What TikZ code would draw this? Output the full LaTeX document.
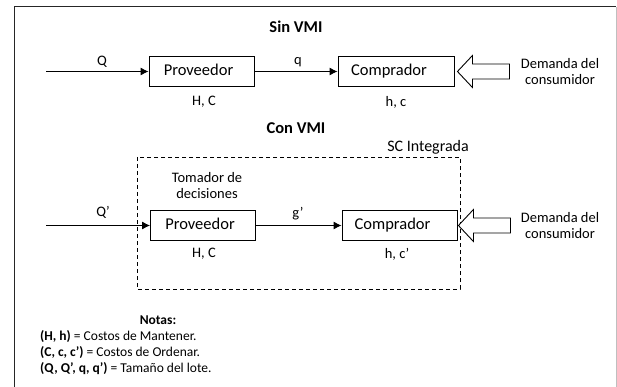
\documentclass[tikz,border=0pt]{standalone}
\usepackage{fontspec}
\setmainfont{Carlito}
\usetikzlibrary{arrows.meta,calc}
\tikzset{
  boxnode/.style={draw, line width=0.9pt, minimum height=30pt, inner sep=0pt, text height=11.5pt, text depth=3.5pt, font=\fontsize{16.5}{19}\selectfont},
  lbl/.style={inner sep=0pt, font=\fontsize{14.5}{16}\selectfont},
  ttl/.style={inner sep=0pt, font=\fontsize{16.5}{18}\selectfont\bfseries},
  flow/.style={line width=0.9pt, -{Latex[length=8pt,width=8pt]}},
  hollow/.style={draw, line width=0.9pt, fill=white},
  dashbox/.style={draw, line width=0.9pt, dash pattern=on 4pt off 3pt},
  note/.style={inner sep=0pt, anchor=west, font=\fontsize{13.5}{15}\selectfont}
}
\begin{document}
\begin{tikzpicture}[x=1pt,y=-1pt]
\useasboundingbox (0,0) rectangle (617,387);
% frame
\draw[line width=1pt, black!85] (14,388) -- (14,7) -- (616,7);
\draw[line width=1pt, black!25] (616,7) -- (616,388);

% ---------- Sin VMI ----------
\node[ttl] (t1) at (296,27) {Sin VMI};
\node[boxnode, minimum width=105pt] (p1) at (201.5,71.5) {\hspace*{-6pt}Proveedor};
\node[boxnode, minimum width=116pt] (c1) at (396,71.5) {\hspace*{-14pt}Comprador};
\coordinate (in1) at (46,71.5);
\draw[flow] (in1) -- (p1.west);
\draw[flow] (p1.east) -- (c1.west);
\node[lbl] (lq1) at (102,62) {Q};
\node[lbl] (lq2) at (298,62) {q};
\node[lbl] (hc1) at (204,102) {H, C};
\node[lbl] (hc2) at (396,102) {h, c};
\node[lbl, align=center] (d1) at (560,71.5) {Demanda del\\consumidor};
\draw[hollow, shift={($(c1.east)+(3,0)$)}] (0,0) -- (15,-16) -- (15,-7.5) -- (52,-7.5) -- (52,7.5) -- (15,7.5) -- (15,16) -- cycle;

% ---------- Con VMI ----------
\node[ttl] (t2) at (296,128) {Con VMI};
\node[lbl, font=\fontsize{16}{18}\selectfont] (sc) at (428,147) {SC Integrada};
\draw[dashbox] (137,157) rectangle (460,289);
\node[lbl] (tom1) at (207,178) {Tomador de};
\node[lbl] (tom2) at (207,194) {decisiones};
\node[boxnode, minimum width=105pt] (p2) at (203,225.5) {\hspace*{-6pt}Proveedor};
\node[boxnode, minimum width=115pt] (c2) at (399.5,225.5) {\hspace*{-14pt}Comprador};
\coordinate (in2) at (46,225.5);
\draw[flow] (in2) -- (p2.west);
\draw[flow] (p2.east) -- (c2.west);
\node[lbl] (lq3) at (103,212) {Q’};
\node[lbl] (lq4) at (298,214) {g’};
\node[lbl] (hc3) at (204,254) {H, C};
\node[lbl] (hc4) at (397,254) {h, c’};
\node[lbl, align=center] (d2) at (560,225.5) {Demanda del\\consumidor};
\draw[hollow, shift={($(c2.east)+(1,0)$)}] (0,0) -- (15,-16) -- (15,-7.5) -- (52,-7.5) -- (52,7.5) -- (15,7.5) -- (15,16) -- cycle;

% ---------- Notas ----------
\node[lbl, font=\fontsize{13.5}{15}\selectfont\bfseries] (nt) at (158,320) {Notas:};
\node[note] (n1) at (40,337) {\textbf{(H, h)} = Costos de Mantener.};
\node[note] (n2) at (40,353) {\textbf{(C, c, c’)} = Costos de Ordenar.};
\node[note] (n3) at (40,369) {\textbf{(Q, Q’, q, q’)} = Tamaño\ del lote.};
\end{tikzpicture}
\end{document}
